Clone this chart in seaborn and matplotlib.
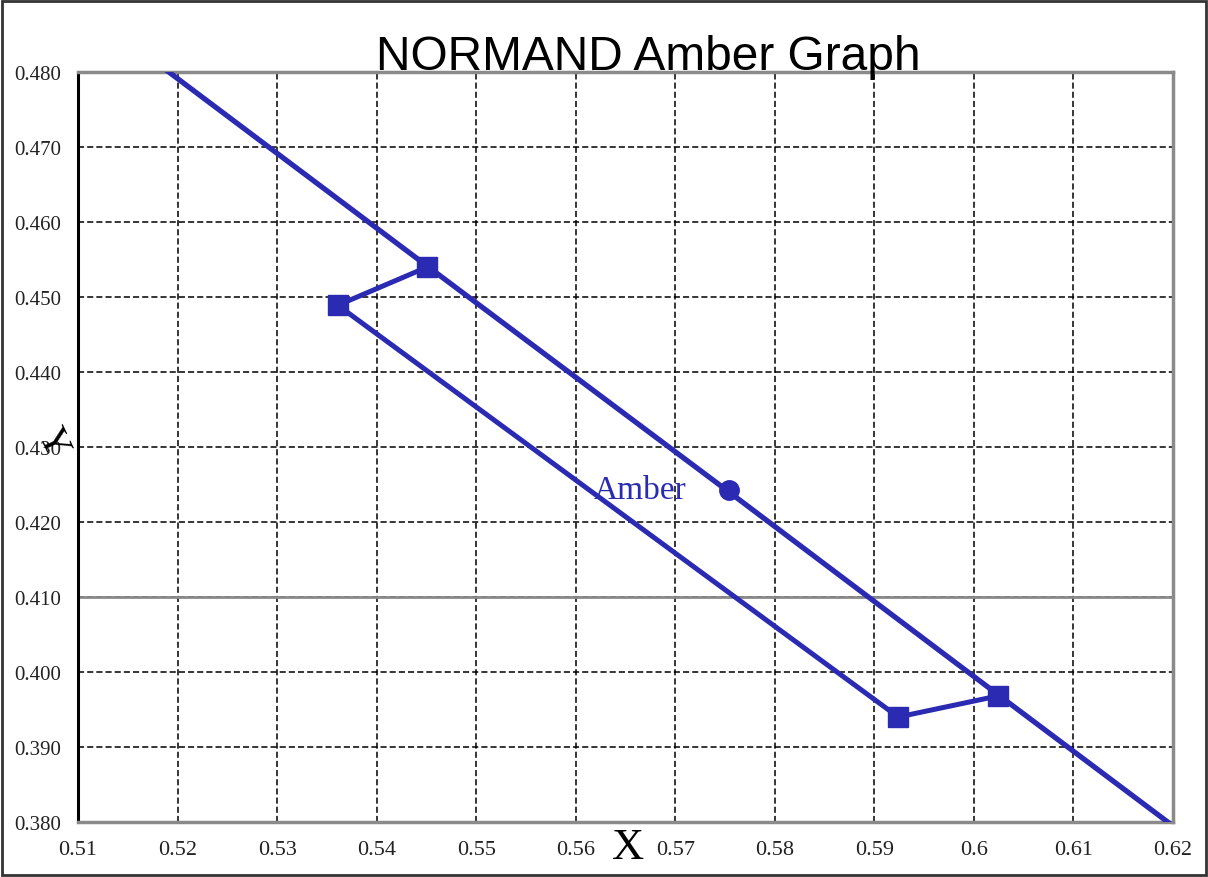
import numpy as np
import pandas as pd
import matplotlib
matplotlib.use("Agg")
import matplotlib.pyplot as plt
import seaborn as sns

# spectrum locus near amber (CIE 1931, 580-600 nm)
locus_x = [0.5125, 0.5448, 0.5752, 0.6029, 0.6270]
locus_y = [0.4866, 0.4544, 0.4242, 0.3965, 0.3725]

# amber region corners (closed)
region_x = [0.5451, 0.5361, 0.5924, 0.6024, 0.5451]
region_y = [0.4540, 0.4489, 0.3940, 0.3968, 0.4540]

# amber point
amber_x = [0.5754]
amber_y = [0.4243]
amber_label = "Amber"

x_ticks = [0.51, 0.52, 0.53, 0.54, 0.55, 0.56, 0.57, 0.58, 0.59, 0.60, 0.61, 0.62]
y_ticks = [0.380, 0.390, 0.400, 0.410, 0.420, 0.430, 0.440, 0.450, 0.460, 0.470, 0.480]

blue = "#2a2ab2"
serif = ["Liberation Serif", "DejaVu Serif"]

sns.set_style("white")
plt.rcParams['font.family'] = serif
plt.rcParams['text.color'] = "black"

fig = plt.figure(figsize=(12.08, 8.78), dpi=100)
ax = fig.add_axes([78 / 1208, 55 / 878, 1095 / 1208, 750 / 878])

locus = pd.DataFrame({"x": locus_x, "y": locus_y})
region = pd.DataFrame({"x": region_x, "y": region_y})

sns.lineplot(data=locus, x="x", y="y", sort=False, color=blue, linewidth=3.8, ax=ax, zorder=3)
sns.lineplot(data=region, x="x", y="y", sort=False, color=blue, linewidth=3.6, ax=ax, zorder=3)
ax.plot(region_x[:-1], region_y[:-1], linestyle="none", marker="s", markersize=15,
        color=blue, zorder=4)
ax.plot(amber_x, amber_y, linestyle="none", marker="o", markersize=14, color=blue, zorder=4)
ax.text(amber_x[0] - 0.0043, amber_y[0], amber_label, color=blue, fontsize=24,
        family=serif, ha="right", va="center", zorder=5)

ax.set_xlim(0.51, 0.62)
ax.set_ylim(0.380, 0.480)
ax.set_xticks(x_ticks)
ax.set_yticks(y_ticks)
ax.set_xticklabels([f"{v:g}" for v in x_ticks])
ax.set_yticklabels([f"{v:.3f}" for v in y_ticks])
ax.tick_params(axis="y", direction="in", length=8, width=1.5, pad=12, labelsize=15,
               color="black", labelcolor="#222222")
ax.tick_params(axis="x", length=0, pad=13, labelsize=16, labelcolor="#222222")

ax.grid(True, color="black", linestyle=(0, (4, 2)), linewidth=1.1)
ax.axhline(0.410, color="#8a8a8a", linewidth=2, zorder=1.5)

for side in ["top", "right", "bottom"]:
    ax.spines[side].set_color("#8a8a8a")
    ax.spines[side].set_linewidth(2.5)
ax.spines["left"].set_color("black")
ax.spines["left"].set_linewidth(2.2)

ax.set_xlabel("")
ax.set_ylabel("")
fig.text(628 / 1208, 1 - 848 / 878, "X", fontsize=32, ha="center", va="center", family=serif)
fig.text(52 / 1208, 1 - 443 / 878, "Y", fontsize=28, ha="center", va="center", rotation=-65,
         family=serif)

fig.text(648 / 1208, 1 - 57 / 878, "NORMAND Amber Graph", fontsize=34.5, ha="center", va="center",
         color="black", family=["Liberation Sans", "DejaVu Sans"])

fig.patches.append(plt.Rectangle((0.002, 0.002), 0.996, 0.996, transform=fig.transFigure,
                                 fill=False, edgecolor="#333333", linewidth=2))

fig.savefig("out.png", dpi=100)
